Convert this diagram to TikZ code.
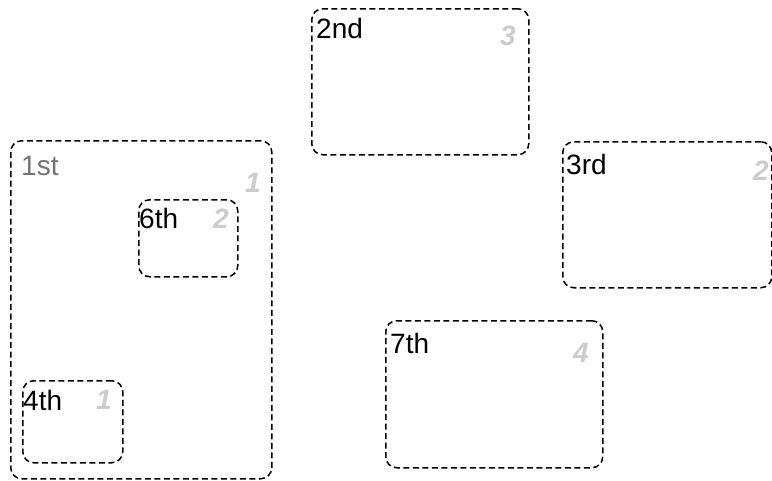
\documentclass[tikz,border=0pt]{standalone}
\usepackage{fontspec}
\setmainfont{Liberation Sans}
\begin{document}
\begin{tikzpicture}[x=1pt,y=-1pt,
  frame/.style={draw=black,dashed,dash pattern=on 6pt off 3.5pt,line width=1.5pt,
    rounded corners=11pt,anchor=north west,inner sep=0pt},
  lbl/.style={anchor=base west,inner sep=0pt,font=\fontsize{28}{30}\selectfont,text=black},
  num/.style={anchor=base east,inner sep=0pt,font=\fontsize{28}{30}\selectfont\bfseries\itshape,text=black!20}]
\useasboundingbox (0,0) rectangle (772,480);
% boxes
\node[frame,minimum width=261pt,minimum height=338pt] (b1) at (10,140) {};
\node[frame,minimum width=99pt,minimum height=77pt] (b6) at (138,199) {};
\node[frame,minimum width=100pt,minimum height=82pt] (b4) at (22,380) {};
\node[frame,minimum width=217pt,minimum height=146pt] (b2) at (311,8) {};
\node[frame,minimum width=209pt,minimum height=146pt] (b3) at (562,141) {};
\node[frame,minimum width=217pt,minimum height=147pt] (b7) at (385,320) {};
% labels
\node[lbl,text=black!55] (t1) at (21,175) {1st};
\node[lbl] (t2) at (316,38) {2nd};
\node[lbl] (t3) at (566,174) {3rd};
\node[lbl] (t7) at (390,353) {7th};
\node[lbl] (t6) at (139,228) {6th};
\node[lbl] (t4) at (23,410) {4th};
% numbers
\node[num] (n1) at (261,192) {1};
\node[num] (n2) at (516,45) {3};
\node[num] (n3) at (769,180) {2};
\node[num] (n7) at (589,362) {4};
\node[num] (n6) at (229,228) {2};
\node[num] (n4) at (112,409) {1};
\end{tikzpicture}
\end{document}
